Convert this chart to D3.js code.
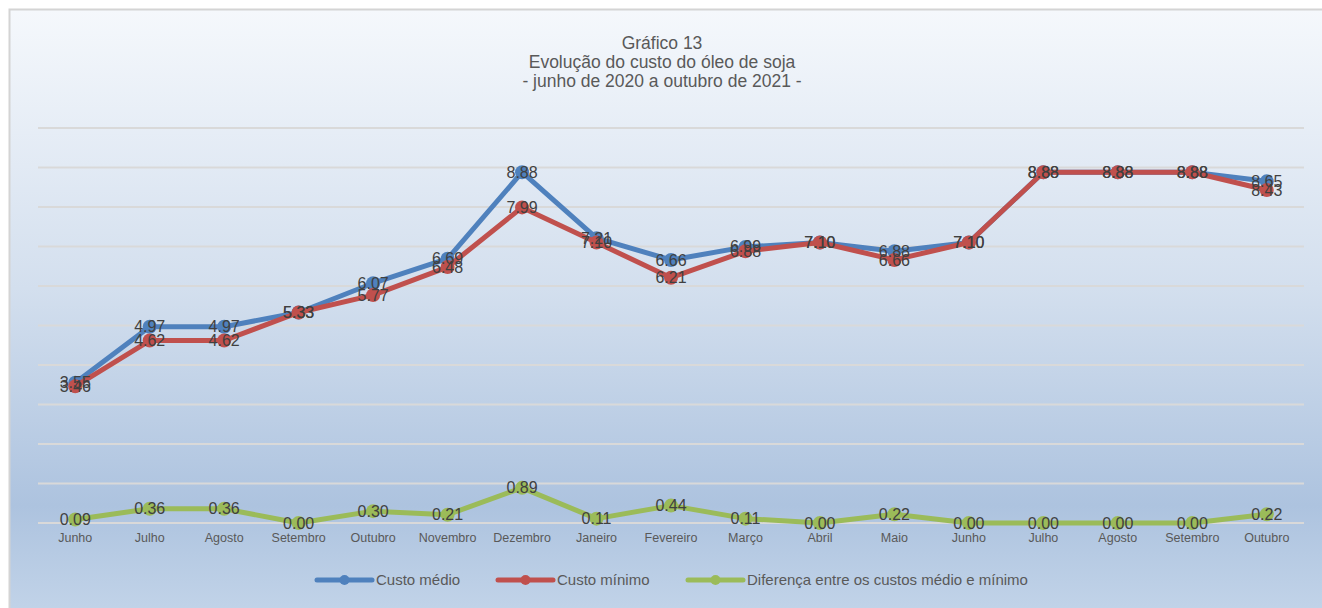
<!doctype html>
<html>
<head>
<meta charset="utf-8">
<script src="https://d3js.org/d3.v7.min.js"></script>
<style>
  body { margin: 0; background: #fff; }
  svg text { font-family: "Liberation Sans", Arial, sans-serif; }
</style>
</head>
<body>
<svg width="1322" height="608"></svg>
<script>
// chart data
var months = ["Junho", "Julho", "Agosto", "Setembro", "Outubro", "Novembro", "Dezembro",
              "Janeiro", "Fevereiro", "Março", "Abril", "Maio", "Junho", "Julho",
              "Agosto", "Setembro", "Outubro"];
var custoMedio = [3.55, 4.97, 4.97, 5.33, 6.07, 6.69, 8.88, 7.21, 6.66, 6.99, 7.10, 6.88, 7.10, 8.88, 8.88, 8.88, 8.65];
var custoMinimo = [3.46, 4.62, 4.62, 5.33, 5.77, 6.48, 7.99, 7.10, 6.21, 6.88, 7.10, 6.66, 7.10, 8.88, 8.88, 8.88, 8.43];
var diferenca = [0.09, 0.36, 0.36, 0.00, 0.30, 0.21, 0.89, 0.11, 0.44, 0.11, 0.00, 0.22, 0.00, 0.00, 0.00, 0.00, 0.22];
var yTicks = [0, 1, 2, 3, 4, 5, 6, 7, 8, 9, 10];
var titleLines = ["Gráfico 13", "Evolução do custo do óleo de soja", "- junho de 2020 a outubro de 2021 -"];

var series = [
  { name: "Custo médio", values: custoMedio, color: "#4f81bd" },
  { name: "Custo mínimo", values: custoMinimo, color: "#c0504d" },
  { name: "Diferença entre os custos médio e mínimo", values: diferenca, color: "#9bbb59" }
];

var svg = d3.select("svg");

// background gradient
var defs = svg.append("defs");
var grad = defs.append("linearGradient").attr("id", "bg")
    .attr("x1", 0).attr("y1", 0).attr("x2", 0).attr("y2", 1);
grad.append("stop").attr("offset", "0%").attr("stop-color", "#f5f8fc");
grad.append("stop").attr("offset", "45%").attr("stop-color", "#d3dfee");
grad.append("stop").attr("offset", "80%").attr("stop-color", "#adc3df");
grad.append("stop").attr("offset", "100%").attr("stop-color", "#c5d6ea");

svg.append("rect")
    .attr("x", 9.5).attr("y", 9.5)
    .attr("width", 1330).attr("height", 620)
    .attr("fill", "url(#bg)")
    .attr("stroke", "#d4d4d4")
    .attr("stroke-width", 2);

var x = d3.scaleBand().domain(d3.range(months.length)).range([38, 1304]);
var y = d3.scaleLinear().domain([0, 10]).range([523, 128]);

// title
svg.append("g").selectAll("text")
  .data(titleLines)
  .join("text")
    .attr("x", 662)
    .attr("y", function(d, i) { return 49 + i * 19; })
    .attr("text-anchor", "middle")
    .attr("fill", "#595959")
    .attr("font-size", 17.5)
    .text(function(d) { return d; });

// gridlines
svg.append("g").selectAll("line")
  .data(yTicks)
  .join("line")
    .attr("x1", 38).attr("x2", 1304)
    .attr("y1", function(d) { return y(d); })
    .attr("y2", function(d) { return y(d); })
    .attr("stroke", "#d9d9d9")
    .attr("stroke-width", 2);

// x axis labels
var xAxis = svg.append("g")
    .attr("transform", "translate(0," + y(0) + ")")
    .call(d3.axisBottom(x).tickSize(0).tickPadding(10).tickFormat(function(i) { return months[i]; }));
xAxis.select(".domain").remove();
xAxis.selectAll("text")
    .attr("fill", "#595959")
    .attr("font-size", 12.5)
    .style("font-family", "Liberation Sans, Arial, sans-serif");

var cx = function(d, i) { return x(i) + x.bandwidth() / 2; };
var line = d3.line()
    .x(function(d, i) { return x(i) + x.bandwidth() / 2; })
    .y(function(d) { return y(d); });

series.forEach(function(s) {
  var g = svg.append("g");
  g.append("path")
      .attr("d", line(s.values))
      .attr("fill", "none")
      .attr("stroke", s.color)
      .attr("stroke-width", 5)
      .attr("stroke-linejoin", "round");
  g.selectAll("circle")
    .data(s.values)
    .join("circle")
      .attr("cx", cx)
      .attr("cy", function(d) { return y(d); })
      .attr("r", 7)
      .attr("fill", s.color);
});

// data labels on top of all lines
series.forEach(function(s) {
  svg.append("g").selectAll("text")
    .data(s.values)
    .join("text")
      .attr("x", cx)
      .attr("y", function(d) { return y(d); })
      .attr("dy", "0.35em")
      .attr("text-anchor", "middle")
      .attr("fill", "#404040")
      .attr("font-size", 16)
      .text(function(d) { return d.toFixed(2); });
});

// legend
var legendX = [317, 498, 688];
var lg = svg.append("g").selectAll("g")
  .data(series)
  .join("g")
    .attr("transform", function(d, i) { return "translate(" + legendX[i] + ",580)"; });
lg.append("line")
    .attr("x1", 0).attr("x2", 55)
    .attr("stroke", function(d) { return d.color; })
    .attr("stroke-width", 5)
    .attr("stroke-linecap", "round");
lg.append("circle")
    .attr("cx", 27.5).attr("r", 5)
    .attr("fill", function(d) { return d.color; });
lg.append("text")
    .attr("x", 59)
    .attr("dy", "0.35em")
    .attr("fill", "#595959")
    .attr("font-size", 15)
    .text(function(d) { return d.name; });
</script>
</body>
</html>
